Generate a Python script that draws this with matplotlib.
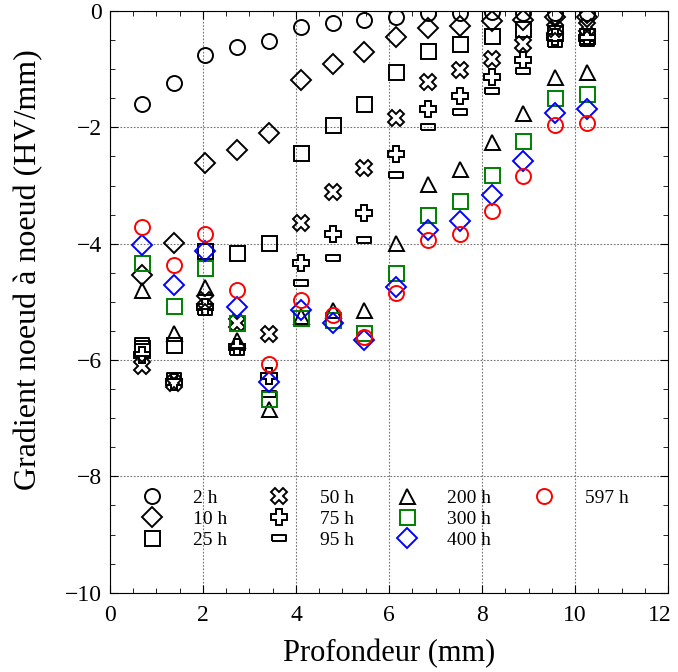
import numpy as np
import matplotlib
matplotlib.use("Agg")
import matplotlib.pyplot as plt
from matplotlib.lines import Line2D
from matplotlib.ticker import MultipleLocator, FuncFormatter

# ------------- Data -------------
depth = [0.684, 1.368, 2.052, 2.736, 3.42, 4.104, 4.788, 5.472,
         6.156, 6.84, 7.524, 8.208, 8.892, 9.576, 10.26]

grad_2h   = [-1.60, -1.23, -0.76, -0.62, -0.51, -0.27, -0.20, -0.16,
             -0.11, -0.04, -0.03, -0.02, -0.04, -0.03, -0.03]
grad_10h  = [-4.53, -3.99, -2.61, -2.38, -2.09, -1.19, -0.91, -0.71,
             -0.45, -0.29, -0.25, -0.17, -0.15, -0.11, -0.11]
grad_25h  = [-5.80, -5.74, -4.13, -4.16, -3.98, -2.44, -1.95, -1.60,
             -1.05, -0.68, -0.57, -0.43, -0.31, -0.38, -0.43]
grad_50h  = [-6.10, -6.40, -4.97, -5.37, -5.56, -3.64, -3.11, -2.70,
             -1.83, -1.22, -1.02, -0.83, -0.57, -0.31, -0.28]
grad_75h  = [-5.92, -6.38, -5.08, -5.78, -6.27, -4.33, -3.84, -3.47,
             -2.45, -1.69, -1.46, -1.13, -0.84, -0.45, -0.47]
grad_95h  = [-5.68, -6.28, -5.17, -5.86, -6.58, -4.68, -4.25, -3.93,
             -2.82, -1.99, -1.73, -1.37, -1.03, -0.57, -0.55]
grad_200h = [-4.79, -5.54, -4.75, -5.66, -6.85, -5.25, -5.14, -5.14,
             -3.99, -2.98, -2.71, -2.25, -1.75, -1.13, -1.05]
grad_300h = [-4.33, -5.07, -4.42, -5.37, -6.67, -5.28, -5.31, -5.54,
             -4.51, -3.50, -3.27, -2.81, -2.24, -1.49, -1.43]
grad_400h = [-4.02, -4.71, -4.13, -5.08, -6.38, -5.14, -5.37, -5.66,
             -4.74, -3.76, -3.61, -3.17, -2.57, -1.75, -1.69]
grad_597h = [-3.71, -4.36, -3.84, -4.79, -6.07, -4.97, -5.22, -5.60,
             -4.85, -3.93, -3.84, -3.44, -2.84, -1.96, -1.93]

labels = ["2 h", "10 h", "25 h", "50 h", "75 h", "95 h",
          "200 h", "300 h", "400 h", "597 h"]

X_MAX = 12

# ------------- Styles -------------
RECT = [(-1, -0.45), (1, -0.45), (1, 0.45), (-1, 0.45), (-1, -0.45)]
styles = [
    dict(marker="o", color="black", ms=10.8),
    dict(marker="D", color="black", ms=10.5),
    dict(marker="s", color="black", ms=10.8),
    dict(marker="X", color="black", ms=11),
    dict(marker="P", color="black", ms=11),
    dict(marker=RECT, color="black", ms=9.5),
    dict(marker="^", color="black", ms=10.8),
    dict(marker="s", color="green", ms=10.8),
    dict(marker="D", color="blue", ms=10.5),
    dict(marker="o", color="red", ms=10.8),
]
series = [grad_2h, grad_10h, grad_25h, grad_50h, grad_75h, grad_95h,
          grad_200h, grad_300h, grad_400h, grad_597h]

plt.rcParams["font.family"] = ["Liberation Serif", "DejaVu Serif"]

fig = plt.figure(figsize=(6.78, 6.72), dpi=100)
ax = fig.add_axes([0.1622, 0.118, 0.8231, 0.8655])

handles = []
for y, lab, st in zip(series, labels, styles):
    h, = ax.plot(depth, y, linestyle="none", marker=st["marker"], markersize=st["ms"],
                 markerfacecolor="none", markeredgecolor=st["color"], markeredgewidth=1.4,
                 label=lab)
    handles.append(h)

ax.set_xlim(0, X_MAX)
ax.set_ylim(-10, 0)
ax.xaxis.set_major_locator(MultipleLocator(2))
ax.yaxis.set_major_locator(MultipleLocator(2))
ax.xaxis.set_minor_locator(MultipleLocator(0.5))
ax.yaxis.set_minor_locator(MultipleLocator(0.5))
# last x label is drawn separately, nudged left so it stays in the figure
ax.xaxis.set_major_formatter(FuncFormatter(lambda v, p: "" if v >= X_MAX else f"{v:g}"))
ax.tick_params(which="both", direction="in", top=True, right=True, labelsize=17)
ax.tick_params(which="major", length=6, width=0.8)
ax.tick_params(which="minor", length=3.5, width=0.6)
ax.tick_params(axis="x", pad=9)
ax.tick_params(axis="y", pad=6)
ax.grid(True, which="major", color="0.45", linestyle=(0, (1.5, 1.5)), linewidth=0.8)
for s in ax.spines.values():
    s.set_linewidth(0.8)

ax.annotate(f"{X_MAX:g}", xy=(X_MAX, 0), xycoords=("data", "axes fraction"),
            xytext=(-6, -9), textcoords="offset points", ha="center", va="top", fontsize=17)

ax.set_xlabel("Profondeur (mm)", fontsize=22, labelpad=9)
ax.set_ylabel("Gradient noeud à noeud (HV/mm)", fontsize=23)
ax.yaxis.set_label_coords(-0.12, 0.555)

# pad to get 3-3-3-1 column filling
blank = Line2D([], [], linestyle="none", marker=None)
leg = ax.legend(handles + [blank, blank], labels + ["", ""], ncol=4, loc="upper left",
                bbox_to_anchor=(0.04, 0.178), frameon=False, fontsize=14,
                handlelength=2.0, handletextpad=1.1, columnspacing=1.7,
                labelspacing=0.18, borderpad=0, borderaxespad=0)

fig.savefig("out.png", dpi=100)
